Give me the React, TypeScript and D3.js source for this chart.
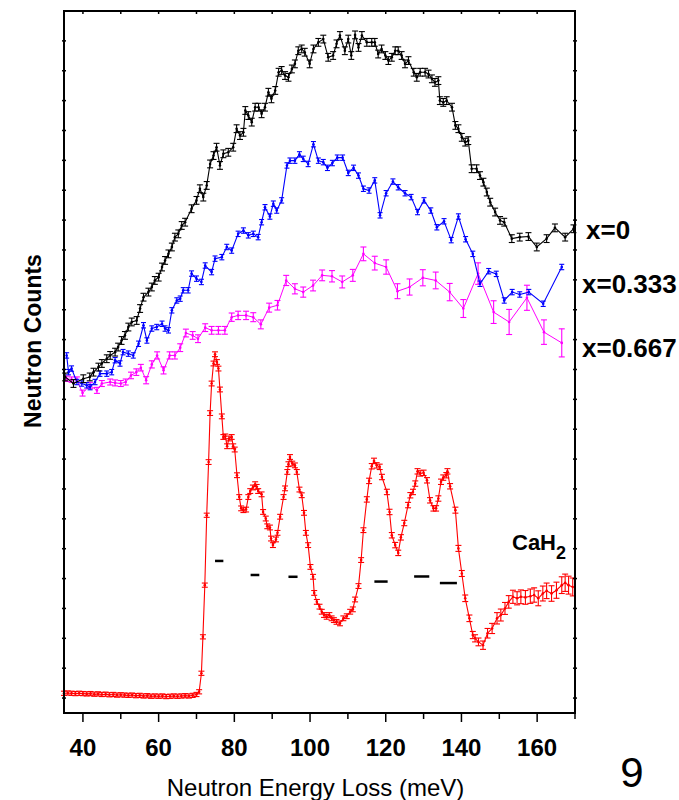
import React from 'react';
import * as d3 from 'd3';

// energy loss (meV), counts (arb. units), error
const xTicks = [40, 60, 80, 100, 120, 140, 160];

const blackErr = 1.3;
const blueErr = 0.9;

const black: [number, number][] = [
  [35.3, 112.5], [37.5, 110.3], [40.1, 111.9], [41.8, 112.5], [42.8, 114.1], [44.1, 115.8], [45.0, 117.0],
  [46.3, 118.6], [47.2, 119.7], [48.5, 120.8], [49.3, 122.5], [50.2, 124.7], [51.1, 126.4], [52.0, 129.2],
  [52.9, 130.9], [54.2, 131.4], [55.1, 135.4], [56.0, 139.2], [57.3, 140.9], [58.2, 142.6], [59.0, 144.8],
  [60.0, 145.9], [60.9, 149.3], [61.7, 151.5], [62.6, 153.7], [63.5, 156.0], [64.3, 159.3], [65.2, 160.4],
  [66.1, 163.2], [67.0, 164.3], [68.7, 168.8], [70.0, 171.6], [70.9, 175.5], [71.8, 172.7], [72.7, 176.6],
  [73.6, 183.8], [74.5, 186.6], [75.3, 189.4], [76.2, 183.3], [77.1, 187.2], [78.4, 187.7], [79.7, 189.4],
  [80.6, 195.6], [81.5, 193.3], [82.4, 194.4], [82.9, 201.7], [83.7, 200.0], [84.6, 197.8], [85.5, 202.8],
  [86.4, 202.8], [87.2, 200.6], [88.1, 202.8], [89.0, 207.8], [89.8, 205.6], [90.8, 208.4], [91.7, 214.5],
  [92.5, 215.1], [93.4, 213.4], [94.3, 212.8], [95.2, 215.6], [96.0, 217.3], [96.9, 221.7], [97.8, 222.3],
  [98.6, 221.2], [99.9, 217.3], [100.9, 222.3], [102.2, 224.5], [103.5, 225.6], [104.8, 219.5], [106.1, 220.1],
  [107.0, 224.0], [107.9, 226.8], [109.2, 221.7], [110.1, 225.6], [110.9, 220.1], [111.9, 227.0], [112.8, 222.8],
  [113.7, 226.8], [115.0, 224.5], [116.3, 224.5], [117.1, 224.5], [118.0, 220.6], [118.9, 222.3], [119.9, 220.1],
  [120.7, 218.4], [121.6, 219.5], [122.5, 221.7], [123.3, 221.7], [124.2, 220.1], [125.1, 217.3], [126.0, 218.4],
  [127.4, 214.5], [128.2, 212.8], [129.1, 214.5], [130.4, 214.5], [131.3, 213.9], [132.2, 212.3], [133.0, 211.1],
  [133.9, 211.7], [134.3, 205.0], [135.2, 204.4], [136.1, 205.0], [137.5, 202.8], [138.4, 196.7], [139.2, 195.6],
  [140.1, 192.7], [141.0, 191.1], [141.8, 191.6], [142.7, 182.2], [144.0, 182.2], [144.9, 179.9], [145.8, 177.7],
  [146.7, 174.4], [147.6, 171.0], [148.9, 167.7], [150.2, 164.9], [151.3, 164.3], [153.3, 158.8], [155.4, 159.3],
  [157.7, 159.5], [159.9, 156.0], [162.5, 158.8], [164.7, 162.4], [167.4, 159.3], [169.6, 162.1],
];

const blue: [number, number][] = [
  [35.7, 119.7], [36.2, 114.1], [37.0, 115.3], [38.4, 110.8], [39.7, 110.3], [41.0, 109.7], [41.9, 109.1],
  [43.2, 110.8], [44.5, 113.6], [46.3, 113.6], [47.6, 114.1], [48.5, 118.1], [49.8, 117.0], [50.6, 120.8],
  [52.0, 120.3], [53.3, 119.7], [54.7, 123.6], [56.0, 129.8], [56.9, 124.7], [58.2, 128.7], [59.5, 129.2],
  [60.9, 130.3], [61.7, 128.7], [62.6, 128.1], [63.5, 134.8], [64.8, 138.1], [65.7, 138.7], [66.5, 141.5],
  [67.8, 141.5], [68.7, 147.1], [70.0, 145.4], [71.3, 144.3], [72.3, 149.8], [74.0, 147.6], [74.9, 152.1],
  [76.7, 152.6], [78.0, 156.0], [79.3, 154.8], [81.0, 160.4], [82.4, 161.5], [83.7, 159.9], [85.0, 160.4],
  [86.3, 159.3], [87.2, 164.3], [88.1, 169.3], [89.4, 166.2], [90.3, 170.5], [91.2, 168.2], [92.5, 171.6],
  [93.9, 183.3], [94.7, 184.9], [96.0, 184.9], [97.2, 187.0], [98.2, 185.5], [99.5, 183.8], [100.9, 190.4],
  [102.2, 184.9], [103.5, 184.4], [104.6, 182.5], [105.9, 184.1], [107.2, 185.9], [108.6, 185.9], [110.1, 180.8],
  [111.5, 182.5], [112.8, 179.9], [114.1, 175.5], [115.6, 174.9], [117.1, 178.3], [118.5, 166.6], [120.1, 174.0],
  [121.9, 177.9], [123.3, 176.0], [125.1, 174.0], [126.7, 172.7], [128.4, 167.7], [130.1, 171.6], [131.9, 168.2],
  [133.5, 162.6], [135.4, 164.6], [137.3, 158.3], [139.2, 166.2], [141.1, 158.6], [143.0, 153.7], [144.9, 143.7],
  [147.2, 147.9], [149.2, 147.0], [151.3, 138.1], [153.4, 140.9], [155.4, 140.1], [157.8, 140.9], [161.6, 137.0],
  [166.5, 149.3],
];

const magenta: [number, number, number][] = [
  [35.7, 111.9, 0.9], [37.0, 111.6, 0.9], [38.4, 111.6, 0.9], [39.9, 107.1, 1.0], [41.9, 109.7, 1.0],
  [43.7, 108.0, 1.0], [45.0, 110.3, 1.0], [47.2, 110.8, 1.0], [48.5, 110.5, 1.0], [50.0, 110.3, 1.0],
  [51.3, 110.8, 1.0], [52.7, 113.0, 1.1], [54.1, 114.1, 1.1], [55.3, 115.6, 1.1], [56.7, 111.4, 1.2],
  [58.2, 116.7, 1.2], [59.6, 119.7, 1.2], [61.3, 114.7, 1.2], [62.9, 119.7, 1.2], [64.3, 119.7, 1.2],
  [65.7, 122.3, 1.3], [67.2, 127.2, 1.3], [69.0, 126.4, 1.3], [70.4, 125.3, 1.3], [72.3, 129.0, 1.3],
  [74.0, 128.1, 1.3], [75.8, 128.1, 1.3], [77.5, 128.1, 1.3], [79.3, 132.5, 1.4], [81.0, 133.1, 1.4],
  [83.1, 133.1, 1.4], [85.0, 132.5, 1.5], [87.0, 130.1, 1.5], [89.2, 135.7, 1.5], [91.4, 136.5, 1.6],
  [93.7, 144.8, 1.7], [96.0, 142.0, 1.7], [98.2, 140.9, 1.7], [100.8, 143.1, 1.8], [103.2, 146.5, 1.8],
  [105.8, 146.2, 1.9], [108.5, 144.3, 2.0], [111.3, 146.5, 2.0], [114.1, 153.7, 2.3], [117.1, 150.6, 2.3],
  [120.1, 149.3, 2.4], [123.1, 141.2, 2.5], [126.3, 142.6, 2.7], [129.8, 145.7, 2.7], [133.2, 144.8, 2.8],
  [136.9, 140.9, 2.9], [140.5, 135.4, 3.0], [144.4, 147.1, 3.6], [148.5, 134.2, 3.8], [152.6, 130.9, 4.2],
  [157.3, 139.0, 4.2], [161.8, 127.5, 4.1], [166.5, 123.9, 4.7],
];

const red: [number, number, number][] = [
  [35, 6.6, 0.7], [36, 6.7, 0.7], [37, 6.6, 0.7], [38, 6.5, 0.7], [39, 6.6, 0.7], [40, 6.5, 0.7], [41, 6.4, 0.7],
  [42, 6.5, 0.7], [43, 6.3, 0.7], [44, 6.4, 0.7], [45, 6.2, 0.7], [46, 6.3, 0.7], [47, 6.1, 0.7], [48, 6.2, 0.7],
  [49, 6.0, 0.7], [50, 6.1, 0.7], [51, 6.0, 0.7], [52, 5.9, 0.7], [53, 6.0, 0.7], [54, 5.8, 0.7], [55, 5.9, 0.7],
  [56, 5.7, 0.7], [57, 5.8, 0.7], [58, 5.6, 0.7], [59, 5.7, 0.7], [60, 5.6, 0.7], [61, 5.7, 0.7], [62, 5.5, 0.7],
  [63, 5.6, 0.7], [64, 5.7, 0.7], [65, 5.6, 0.7], [66, 5.7, 0.7], [67, 5.8, 0.7], [68, 5.7, 0.7], [69, 5.9, 0.7],
  [70, 6.2, 0.7], [70.7, 7.1, 0.7], [71.3, 13.3, 0.7], [71.7, 25.5, 0.7], [72.2, 42.8, 0.7], [72.7, 66.2, 0.7],
  [73.2, 84.0, 0.8], [73.6, 100.4, 0.8], [74.0, 110.3, 0.8], [74.5, 117.0, 0.8], [74.9, 120.1, 0.8],
  [75.4, 117.5, 0.8], [75.8, 115.3, 0.8], [76.2, 108.3, 0.8], [76.7, 99.3, 0.8], [77.1, 92.4, 0.8],
  [77.6, 92.6, 0.8], [78.1, 89.3, 0.8], [78.6, 91.9, 0.8], [79.3, 92.4, 0.8], [79.7, 89.3, 0.8], [80.1, 88.2, 0.8],
  [80.7, 79.6, 0.8], [81.3, 72.3, 0.8], [81.8, 68.5, 0.8], [82.4, 67.9, 0.8], [83.1, 68.1, 0.8], [83.7, 72.3, 0.8],
  [84.2, 74.3, 0.8], [84.9, 75.5, 0.8], [85.5, 76.6, 0.8], [85.9, 75.7, 0.8], [86.3, 74.3, 0.8], [87.2, 73.2, 0.8],
  [87.6, 67.3, 0.8], [88.3, 65.1, 0.8], [88.7, 62.5, 0.8], [89.4, 62.1, 0.8], [89.7, 58.4, 0.8], [90.2, 56.2, 0.8],
  [91.0, 58.1, 0.8], [91.4, 60.3, 0.8], [92.1, 65.7, 0.8], [93.0, 72.3, 0.8], [93.4, 75.2, 0.8], [94.0, 80.7, 0.8],
  [94.3, 83.3, 0.8], [94.7, 85.7, 0.8], [95.3, 83.5, 0.8], [96.0, 82.9, 0.8], [96.5, 80.7, 0.8], [97.2, 74.8, 0.8],
  [97.8, 72.9, 0.8], [98.4, 67.0, 0.8], [98.9, 60.3, 0.8], [99.5, 56.2, 0.8], [100.1, 48.9, 0.8], [100.8, 45.6, 0.8],
  [101.1, 40.2, 0.8], [101.8, 37.2, 0.8], [102.5, 35.6, 0.8], [103.1, 33.9, 0.8], [103.7, 32.8, 0.8],
  [104.4, 32.2, 0.8], [105.1, 32.8, 0.8], [105.7, 31.7, 0.8], [106.3, 31.1, 0.8], [107.0, 30.5, 0.8],
  [107.9, 30.0, 0.8], [108.8, 31.7, 0.8], [109.7, 32.4, 0.8], [110.6, 33.9, 0.8], [111.3, 34.7, 0.8],
  [111.9, 38.0, 0.8], [112.8, 42.5, 0.8], [113.5, 51.2, 0.8], [114.1, 61.2, 0.8], [115.0, 71.5, 0.9],
  [115.6, 77.7, 0.9], [116.3, 82.6, 0.9], [116.9, 84.4, 0.9], [117.6, 82.9, 0.9], [118.4, 82.4, 0.9],
  [119.0, 79.0, 0.9], [120.3, 74.0, 0.9], [121.0, 67.3, 0.9], [121.6, 59.5, 0.9], [122.5, 56.2, 0.9],
  [123.3, 53.6, 0.9], [124.0, 58.8, 0.9], [124.9, 63.6, 0.9], [125.9, 69.6, 0.9], [126.5, 72.9, 0.9],
  [127.2, 74.0, 0.9], [127.8, 76.8, 0.9], [128.4, 80.9, 0.9], [129.1, 80.2, 0.9], [130.0, 80.4, 0.9],
  [130.9, 77.9, 0.9], [131.7, 71.2, 0.9], [132.6, 68.5, 0.9], [133.3, 68.5, 0.9], [133.9, 71.8, 0.9],
  [134.6, 77.4, 0.9], [135.2, 78.8, 0.9], [136.0, 79.6, 0.9], [136.3, 80.9, 0.9], [137.0, 75.9, 0.9],
  [138.4, 67.9, 1.0], [139.2, 55.1, 1.0], [140.1, 46.7, 1.0], [141.0, 38.4, 1.1], [142.1, 31.7, 1.1],
  [143.0, 26.1, 1.2], [143.6, 25.0, 1.2], [144.5, 23.8, 1.3], [145.7, 22.7, 1.4], [146.9, 26.7, 1.6],
  [148.1, 28.3, 1.7], [149.4, 31.7, 1.9], [150.4, 32.8, 2.0], [151.5, 35.0, 2.0], [152.5, 37.2, 2.1],
  [153.6, 38.9, 2.2], [154.7, 38.4, 2.2], [155.7, 38.9, 2.3], [156.9, 38.7, 2.3], [158.2, 39.1, 2.4],
  [159.2, 39.5, 2.4], [160.3, 38.4, 2.5], [161.5, 40.0, 2.5], [162.5, 40.9, 2.6], [163.8, 40.0, 2.6],
  [165.1, 41.1, 2.7], [166.5, 42.8, 2.8], [167.4, 43.6, 2.9], [168.3, 42.8, 3.0], [169.4, 42.2, 3.0],
];

// calculated mode positions: [start E, end E, level]
const modeBars: [number, number, number][] = [
  [74.9, 77.1, 50.9], [84.3, 86.6, 46.2], [94.3, 96.7, 45.6],
  [117.0, 120.5, 44.0], [127.5, 131.5, 45.7], [134.3, 138.8, 43.5],
];

const W = 679;
const H = 800;
const margin = { left: 64, right: 104, top: 11, bottom: 87 };
const font = '"Liberation Sans", Arial, Helvetica, sans-serif';

const x = d3.scaleLinear().domain([35, 170]).range([margin.left, W - margin.right]);
const y = d3.scaleLinear().domain([0, 235]).range([H - margin.bottom, margin.top]);

const Series = ({ data, err, color, cap, width = 1 }: { data: number[][]; err?: number; color: string; cap: number; width?: number }) => {
  const line = d3.line<number[]>().x(d => x(d[0])).y(d => y(d[1]));
  return (
    <g>
      <path d={line(data) || ''} fill="none" stroke={color} strokeWidth={width} />
      {data.map((d, i) => {
        const e = d[2] !== undefined ? d[2] : (err || 0);
        const cx = x(d[0]);
        const y0 = y(d[1] - e);
        const y1 = y(d[1] + e);
        return (
          <g key={i} stroke={color} strokeWidth={1.1}>
            <line x1={cx} x2={cx} y1={y0} y2={y1} />
            <line x1={cx - cap / 2} x2={cx + cap / 2} y1={y0} y2={y0} />
            <line x1={cx - cap / 2} x2={cx + cap / 2} y1={y1} y2={y1} />
            <circle cx={cx} cy={y(d[1])} r={1.3} fill={color} stroke="none" />
          </g>
        );
      })}
    </g>
  );
};

const App = () => {
  const minorX = d3.range(40, 171, 10);
  const yTicks = d3.range(5, 230, 10);
  const x0 = margin.left, x1 = W - margin.right;
  const y0 = H - margin.bottom, y1 = margin.top;
  return (
    <svg width={W} height={H} style={{ position: 'absolute', left: 0, top: 0, background: '#fff' }}
      fontFamily={font}>
      <rect width={W} height={H} fill="#fff" />
      <Series data={red} color="#ff0000" cap={6} width={1.1} />
      <Series data={magenta} color="#ff00ff" cap={6} />
      <Series data={blue} err={blueErr} color="#0000ff" cap={5} width={1.1} />
      <Series data={black} err={blackErr} color="#000000" cap={6} width={1.1} />
      {modeBars.map((b, i) => (
        <line key={i} x1={x(b[0])} x2={x(b[1])} y1={y(b[2])} y2={y(b[2])} stroke="#000" strokeWidth={2.5} />
      ))}
      {/* frame */}
      <rect x={x0} y={y1} width={x1 - x0} height={y0 - y1} fill="none" stroke="#000" strokeWidth={2} />
      {minorX.map(t => {
        const major = xTicks.includes(t);
        return (
          <g key={t} stroke="#000" strokeWidth={1.5}>
            <line x1={x(t)} x2={x(t)} y1={y0} y2={y0 + (major ? 9 : 6)} />
            <line x1={x(t)} x2={x(t)} y1={y1} y2={y1 + 3} />
          </g>
        );
      })}
      {yTicks.map(t => (
        <g key={t} stroke="#000" strokeWidth={1.5}>
          <line x1={x0 - 2} x2={x0 + 2} y1={y(t)} y2={y(t)} />
          <line x1={x1 - 2} x2={x1 + 2} y1={y(t)} y2={y(t)} />
        </g>
      ))}
      {xTicks.map(t => (
        <text key={t} x={x(t)} y={756} textAnchor="middle" fontSize={24} fontWeight="bold">{t}</text>
      ))}
      <text x={W / 2 - 24} y={796} textAnchor="middle" fontSize={24}>Neutron Energy Loss (meV)</text>
      <text transform="translate(41,341) rotate(-90)" textAnchor="middle" fontSize={23} fontWeight="bold">Neutron Counts</text>
      <text x={586} y={239} fontSize={26} fontWeight="bold">x=0</text>
      <text x={582} y={293} fontSize={26} fontWeight="bold">x=0.333</text>
      <text x={582} y={357} fontSize={26} fontWeight="bold">x=0.667</text>
      <text x={512} y={550} fontSize={22} fontWeight="bold">CaH<tspan fontSize={18} dy={9}>2</tspan></text>
      <text x={632} y={787} textAnchor="middle" fontSize={42}>9</text>
    </svg>
  );
};

export default App;
